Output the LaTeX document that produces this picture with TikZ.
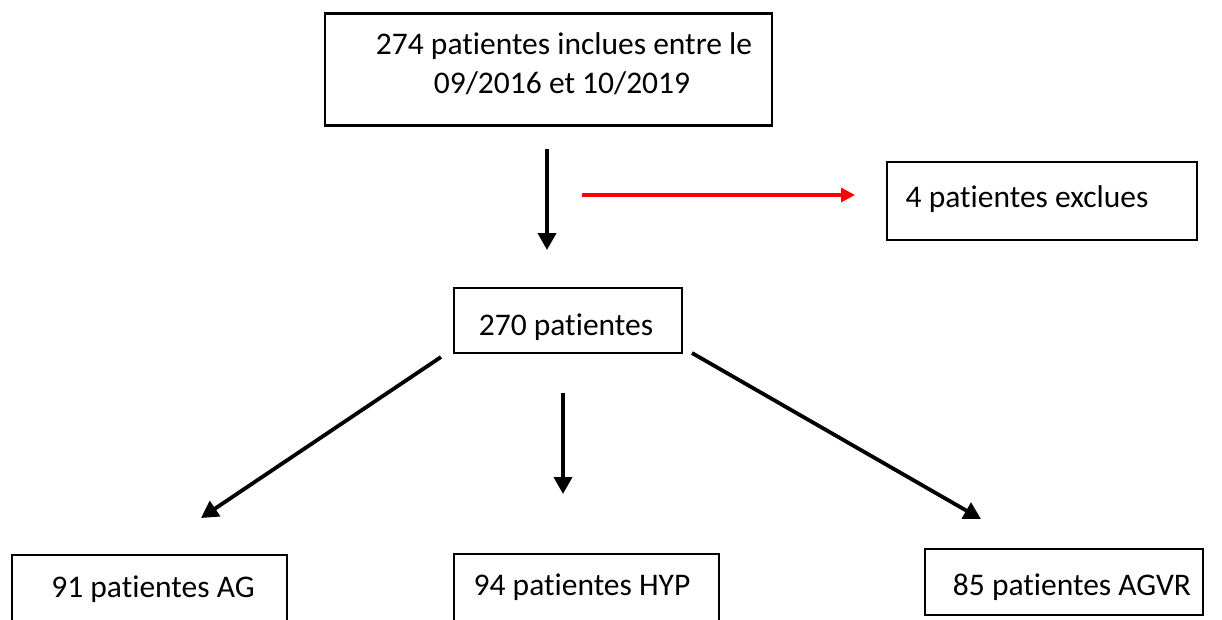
\documentclass[tikz,border=0pt]{standalone}
\usepackage{fontspec}
\setmainfont{Carlito}[RawFeature={-liga;-clig;-dlig}]
\usetikzlibrary{arrows.meta}
\begin{document}
\begin{tikzpicture}[x=1pt,y=-1pt,
  box/.style={draw=black, line width=2.6pt, fill=white, inner sep=0pt},
  txt/.style={font=\fontsize{31.5}{39}\selectfont, inner sep=0pt, align=center, text=black},
  arr/.style={line width=3.8pt, -{Triangle[width=18pt,length=17pt]}},
  redarr/.style={draw=red, line width=3.2pt, -{Triangle[width=14pt,length=14pt]}, red}]
\useasboundingbox (0,0) rectangle (1222,619);
\fill[white] (0,0) rectangle (1222,619);
\clip (0,0) rectangle (1222,619);
% boxes
\node[box, minimum width=447pt, minimum height=112pt] (top) at (548.5,69.5) {};
\node[box, minimum width=310pt, minimum height=78pt] (excl) at (1042,201) {};
\node[box, minimum width=228pt, minimum height=65pt] (mid) at (568,320.5) {};
\node[box, minimum width=275pt, minimum height=110pt] (ag) at (149.5,610) {};
\node[box, minimum width=265pt, minimum height=110pt] (hyp) at (586.5,609) {};
\node[box, minimum width=278pt, minimum height=66pt] (agvr) at (1064,582) {};
% texts
\node[txt, anchor=base] (topT1) at (564,54) {274 patientes inclues entre le};
\node[txt, anchor=base] (topT2) at (562,93) {09/2016 et 10/2019};
\node[txt, anchor=base] (exclT) at (1027,207) {4 patientes exclues};
\node[txt, anchor=base] (midT) at (566,335) {270 patientes};
\node[txt, anchor=base] (agT) at (153,597) {91 patientes AG};
\node[txt, anchor=base] (hypT) at (582,595) {94 patientes HYP};
\node[txt, anchor=base] (agvrT) at (1072,595) {85 patientes AGVR};
% arrow endpoints
\coordinate (a1s) at (547,149);
\coordinate (a1e) at (547,250);
\coordinate (rs) at (582,195);
\coordinate (re) at (855,195);
\coordinate (a2s) at (563,393);
\coordinate (a2e) at (563,494);
\coordinate (ls) at (441,357);
\coordinate (le) at (201,518);
\coordinate (rgs) at (692,353);
\coordinate (rge) at (981,519);
\draw[arr] (a1s) -- (a1e);
\draw[redarr] (rs) -- (re);
\draw[arr] (a2s) -- (a2e);
\draw[arr] (ls) -- (le);
\draw[arr] (rgs) -- (rge);
\end{tikzpicture}
\end{document}
